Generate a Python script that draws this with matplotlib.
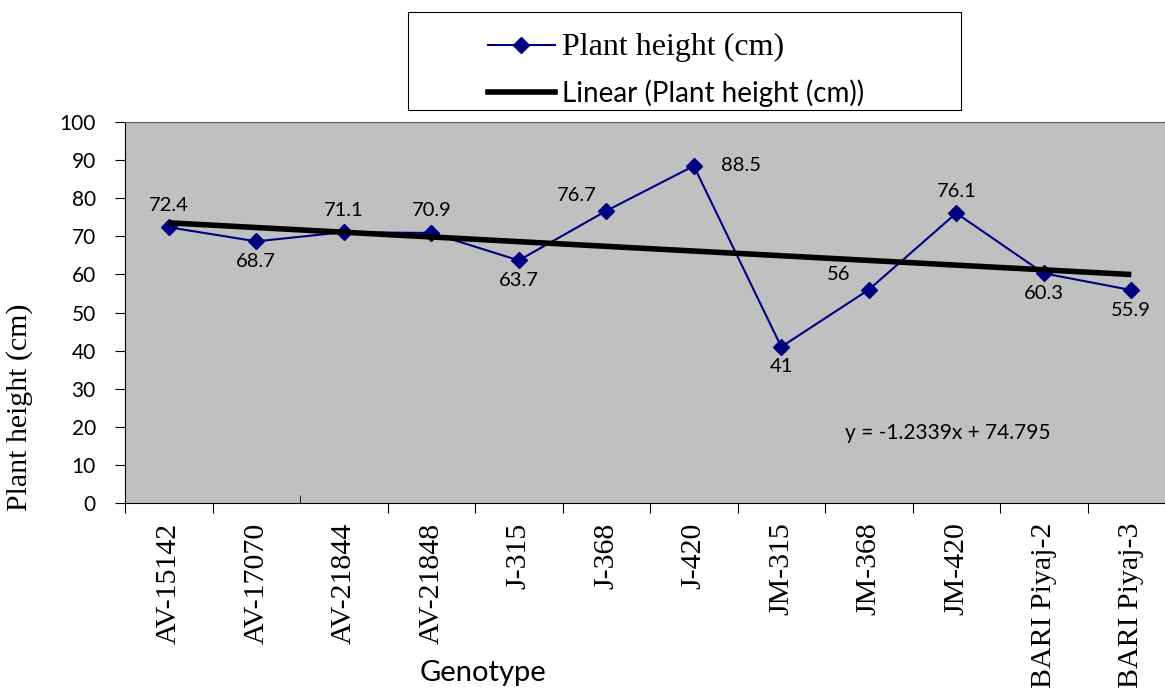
import numpy as np
import matplotlib
matplotlib.use("Agg")
import matplotlib.pyplot as plt
from matplotlib.lines import Line2D
from matplotlib.patches import Rectangle

genotypes = ["AV-15142", "AV-17070", "AV-21844", "AV-21848", "J-315", "J-368",
             "J-420", "JM-315", "JM-368", "JM-420", "BARI Piyaj-2", "BARI Piyaj-3"]
height    = [72.4, 68.7, 71.1, 70.9, 63.7, 76.7, 88.5, 41, 56, 76.1, 60.3, 55.9]
slope, intercept = -1.2339, 74.795
# where Excel put each data label (above / below / left / right)
label_pos = ["above", "below", "above", "above", "below", "left",
             "right", "below", "left", "above", "below", "below"]

SANS  = "Lato"
SERIF = "Liberation Serif"

x     = np.arange(1, len(height) + 1)
trend = slope * x + intercept

fig = plt.figure(figsize=(11.65, 6.9), dpi=100)
ax  = fig.add_axes([0.1073, 0.271, 0.9013, 0.552])
ax.set_facecolor("#C0C0C0")

ax.plot(x, height, "-", color="#000080", linewidth=1.5, marker="D",
        markersize=8, markerfacecolor="#000080", markeredgecolor="#000080")
ax.plot(x, trend, "-", color="black", linewidth=4, solid_capstyle="butt")

offsets = {"above": (0, 22), "below": (0, -20), "left": (-30, 15), "right": (47, 0)}
for xi, yi, pos in zip(x, height, label_pos):
    dx, dy = offsets[pos]
    ax.annotate(f"{yi:g}", (xi, yi), xytext=(dx, dy), textcoords="offset pixels",
                ha="center", va="center", fontsize=14.5, family=SANS, color="black")

ax.text(9.9, 18.4, "y = -1.2339x + 74.795", ha="center", va="center",
        fontsize=15, family=SANS)

ax.set_xlim(0.5, 12.5)
ax.set_ylim(0, 100)
ax.set_yticks(np.arange(0, 101, 10))
ax.tick_params(axis="y", direction="out", length=7, pad=14, labelsize=15)
for lbl in ax.get_yticklabels():
    lbl.set_family(SANS)

# category boundaries as ticks, names on centres
bounds = np.arange(0.5, 12.5, 1.0)
ax.set_xticks([b for i, b in enumerate(bounds) if i != 2])
ax.set_xticklabels([])
ax.tick_params(axis="x", which="major", direction="out", length=7)
ax.set_xticks(list(x) + [2.5], minor=True)
ax.set_xticklabels(genotypes + [""], minor=True, rotation=90, ha="center", va="top",
                   family=SERIF, fontsize=21.5)
ax.tick_params(axis="x", which="minor", length=0, pad=14)
ax.xaxis.get_minor_ticks()[-1].tick1line.set_markersize(6)
ax.xaxis.get_minor_ticks()[-1].tick1line.set_marker(2)

for s in ["left", "bottom"]:
    ax.spines[s].set_color("black")
for s in ["top", "right"]:
    ax.spines[s].set_color("#606060")

fig.text(0.017, 0.41, "Plant height (cm)", rotation=90, ha="center", va="center",
         family=SERIF, fontsize=21.5)
fig.text(0.415, 0.024, "Genotype", ha="center", va="center", family=SANS, fontsize=21)

# legend: Excel-style box wider than its entries
fig.patches.append(Rectangle((408 / 1165, 1 - 110 / 690), 553 / 1165, 98 / 690,
                             transform=fig.transFigure, fill=False,
                             edgecolor="black", linewidth=0.8))
handles = [
    Line2D([], [], color="#000080", linewidth=1.5, marker="D", markersize=8),
    Line2D([], [], color="black", linewidth=4),
]
leg = fig.legend(handles, ["Plant height (cm)", "Linear (Plant height (cm))"],
                 loc="upper left", bbox_to_anchor=(488 / 1165, 1 - 33 / 690),
                 frameon=False, borderaxespad=0, borderpad=0,
                 handlelength=2.4, handletextpad=0.25, labelspacing=0.63,
                 prop={"family": SANS, "size": 20})
leg.get_texts()[0].set_family(SERIF)
leg.get_texts()[0].set_fontsize(23)

fig.savefig("out.png", dpi=100)
